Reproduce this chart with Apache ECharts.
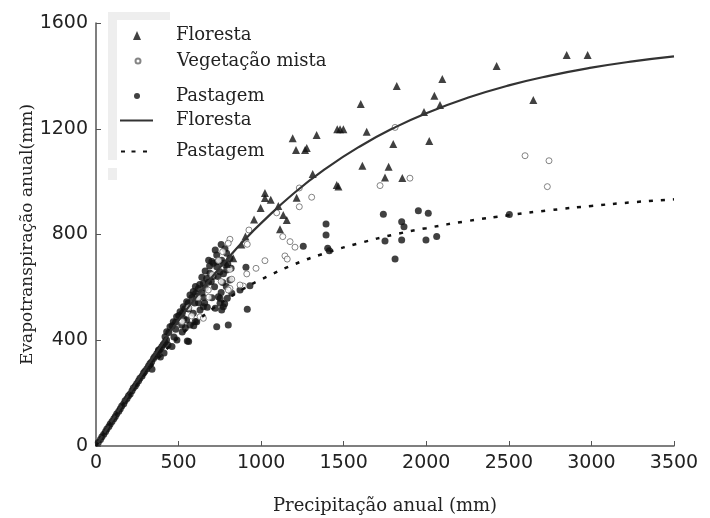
<!DOCTYPE html>
<html><head><meta charset="utf-8">
<script src="https://cdn.jsdelivr.net/npm/echarts@6/dist/echarts.min.js"></script>
<style>html,body{margin:0;padding:0;background:#fff}#c{width:710px;height:518px}</style>
</head><body><div id="c"></div>
<script>
// ---- data ----
var xTicks = [0, 500, 1000, 1500, 2000, 2500, 3000, 3500];
var yTicks = [0, 400, 800, 1200, 1600];
var legendLabels = ['Floresta', 'Vegetação mista', 'Pastagem', 'Floresta', 'Pastagem'];

// Floresta observations [precipitation, evapotranspiration]
var florestaPts = [
[2097,1388],[1821,1362],[2049,1325],[2083,1290],[1986,1263],[1603,1294],[1461,1198],[1478,1198],
[1498,1198],[1639,1189],[1336,1176],[1191,1164],[1211,1120],[1266,1120],[1276,1127],[1800,1142],
[2018,1154],[1312,1029],[1613,1060],[1772,1056],[1750,1016],[1855,1014],[1458,987],[1468,982],
[1023,957],[1023,938],[1215,939],[1104,908],[997,900],[1134,874],[1155,855],[957,857],[1114,820],
[831,710],[2426,1437],[2850,1479],[2977,1479],[2648,1309],[880,762],[905,792],[792,688],[1058,931]
];
// Vegetação mista observations
var mistaPts = [
[1811,1205],[1901,1013],[1720,985],[1231,976],[1306,941],[1231,905],[1131,792],[1175,773],[1205,752],
[1144,719],[1158,707],[2598,1098],[2743,1079],[2733,981],[1094,882],[926,817],[916,763],[811,782],
[801,767],[767,735],[1023,701],[969,672],[913,651],[822,631],[892,605],[811,596],[630,489],[650,483],
[579,492],[680,590],[811,668],[801,590],[872,609],[742,702],[703,648],[758,622],[618,561],[562,523],
[521,471],[683,563]
];
// Pastagem observations
var pastagemPts = [
[1740,877],[1952,890],[2012,880],[1851,848],[1865,829],[1393,840],[1393,798],[2063,792],[1998,779],
[1851,779],[1750,775],[1403,748],[1413,739],[1255,756],[1811,707],[2503,876],[916,517],[801,458],
[731,451],[674,525],[908,676],[932,606],[872,590],[751,559],[771,527],[553,397],
[14,13],[27,25],[36,35],[47,44],[58,55],[66,64],[78,74],[86,83],[97,93],[108,103],[117,112],[126,122],
[138,131],[147,141],[156,151],[168,160],[176,171],[188,180],[197,190],[207,197],[218,209],[226,219],
[238,227],[247,236],[258,247],[266,256],[279,265],[288,276],[296,283],[308,292],[318,303],[327,312],
[337,319],[348,331],[356,339],[368,349],[377,358],[388,366],[398,375],[407,384],[417,392],[427,401],
[339,290],[379,363],[390,337],[436,382],[460,376],[490,401],[561,395],[412,352],[472,412],[522,431],
[541,447],[601,471],[592,455],
[418,413],[428,432],[448,451],[468,470],[488,489],[509,508],[529,527],[549,546],[569,571],[589,584],
[610,565],[620,596],[650,615],[670,634],[690,653],[711,691],[731,678],[751,659],[771,691],[791,666],
[731,722],[791,729],[811,710],[741,565],[751,540],[761,514],[650,527],[630,514],[589,502],[549,477],
[519,458],[569,458],[610,470],[811,628],[822,578],[795,559],[702,698],[722,741],[758,762],[781,746],
[688,681],[661,662],[641,638],[602,603],[581,562],[558,541],[538,519],[501,494],[482,468],[461,455],
[441,429],[522,502],[561,518],[603,578],[628,611],[662,598],[698,622],[718,602],[739,641],[768,618],
[789,603],[652,562],[702,561],[621,542],[532,481],[483,442],[682,703],[738,698],[761,703],[798,688],
[818,672],[772,652],[709,641],[681,619],[642,579],[598,541],[658,541],[722,521],[758,581],[779,538]
];
// fitted curves
var curveP        = [0, 100, 200, 300, 400, 500, 600, 700, 800, 900, 1000, 1200, 1400, 1600, 1800, 2000, 2250, 2500, 2750, 3000, 3250, 3500];
var florestaCurve = [0, 100, 198, 294, 386, 475, 558, 637, 711, 780, 843, 957, 1053, 1134, 1202, 1259, 1317, 1364, 1401, 1431, 1455, 1474];
var pastagemCurve = [0, 99, 191, 274, 347, 411, 467, 516, 559, 597, 630, 687, 732, 768, 799, 824, 851, 873, 892, 908, 922, 933];

// ---- chart ----
function pairs(xs, ys) { return xs.map(function (x, i) { return [x, ys[i]]; }); }
var nameMap = { fPts: legendLabels[0], mPts: legendLabels[1], pPts: legendLabels[2], fCur: legendLabels[3], pCur: legendLabels[4] };
var serif = 'DejaVu Serif';
var sans = 'DejaVu Sans';
// legend icon shapes; each path spans the full 51-px item box so the glyph sits where the reference draws it
var icons = {
  fPts: 'path://M0,0M51,9M13,9L17,0L21,9Z',
  mPts: 'path://M0,0M51,6M19.5,3A2.5,2.5,0,1,1,14.5,3A2.5,2.5,0,1,1,19.5,3Z',
  pPts: 'path://M0,0M51,7M20,3.5A3,3,0,1,1,14,3.5A3,3,0,1,1,20,3.5Z',
  fCur: 'path://M0,0M51,3M0,0.6L33,0.6L33,2.6L0,2.6Z',
  pCur: 'path://M0,0M51,3M1,0.4L5,0.4L5,2.6L1,2.6ZM11.5,0.4L15.5,0.4L15.5,2.6L11.5,2.6ZM23,0.4L27,0.4L27,2.6L23,2.6Z'
};
function leg(name, top, h) {
  return {
    data: [{ name: name, icon: icons[name] }], left: 120, top: top, orient: 'vertical', padding: 0,
    itemWidth: 51, itemHeight: h, selectedMode: false, symbolKeepAspect: false,
    formatter: function (n) { return nameMap[n]; },
    textStyle: { fontFamily: serif, fontSize: 18, color: '#222' }
  };
}
var chart = echarts.init(document.getElementById('c'), null, { renderer: 'canvas' });
chart.setOption({
  animation: false,
  backgroundColor: '#fff',
  graphic: [
    { type: 'rect', shape: { x: 108, y: 12, width: 62, height: 8 }, style: { fill: '#eeeeee' }, z: -1 },
    { type: 'rect', shape: { x: 108, y: 12, width: 9, height: 148 }, style: { fill: '#eeeeee' }, z: -1 },
    { type: 'rect', shape: { x: 108, y: 168, width: 9, height: 12 }, style: { fill: '#eeeeee' }, z: -1 }
  ],
  grid: { left: 96, right: 36, top: 23, bottom: 72, containLabel: false, outerBoundsMode: 'none' },
  legend: [
    leg('fPts', 26.5, 9),
    leg('mPts', 52, 6),
    leg('pPts', 87, 7),
    leg('fCur', 111.5, 3),
    leg('pCur', 142.5, 3)
  ],
  xAxis: {
    type: 'value', min: xTicks[0], max: xTicks[xTicks.length - 1], interval: 500,
    name: 'Precipitação anual (mm)', nameLocation: 'middle', nameGap: 51, nameMoveOverlap: false,
    nameTextStyle: { fontFamily: serif, fontSize: 18, color: '#222' },
    axisLine: { show: true, lineStyle: { color: '#555', width: 1.5 } },
    axisTick: { show: true, inside: true, length: 5, lineStyle: { color: '#555' } },
    axisLabel: { fontFamily: sans, fontSize: 19, color: '#222', margin: 8, formatter: function (v) { return String(v); } },
    splitLine: { show: false }
  },
  yAxis: {
    type: 'value', min: yTicks[0], max: yTicks[yTicks.length - 1], interval: 400,
    name: 'Evapotranspiração anual(mm)', nameLocation: 'middle', nameGap: 60, nameMoveOverlap: false,
    nameTextStyle: { fontFamily: serif, fontSize: 17, color: '#222' },
    axisLine: { show: true, lineStyle: { color: '#555', width: 1.5 } },
    axisTick: { show: true, inside: true, length: 5, lineStyle: { color: '#555' } },
    axisLabel: { fontFamily: sans, fontSize: 19, color: '#222', margin: 8, formatter: function (v) { return String(v); } },
    splitLine: { show: false }
  },
  series: [
    { name: 'pPts', type: 'scatter', data: pastagemPts, symbol: 'circle', symbolSize: 7,
      itemStyle: { color: '#111' }, z: 2 },
    { name: 'mPts', type: 'scatter', data: mistaPts, symbol: 'circle', symbolSize: 6,
      itemStyle: { color: '#fff', borderColor: '#666', borderWidth: 1 }, z: 3 },
    { name: 'fPts', type: 'scatter', data: florestaPts, symbol: 'triangle', symbolSize: 8,
      itemStyle: { color: '#111' }, z: 3 },
    { name: 'fCur', type: 'line', data: pairs(curveP, florestaCurve), smooth: true, symbol: 'none',
      lineStyle: { color: '#333', width: 2.2 }, itemStyle: { color: '#333' }, z: 4 },
    { name: 'pCur', type: 'line', data: pairs(curveP, pastagemCurve), smooth: true, symbol: 'none',
      lineStyle: { color: '#111', width: 2.5, type: [4, 8] }, itemStyle: { color: '#111' }, z: 4 }
  ]
});
</script></body></html>
